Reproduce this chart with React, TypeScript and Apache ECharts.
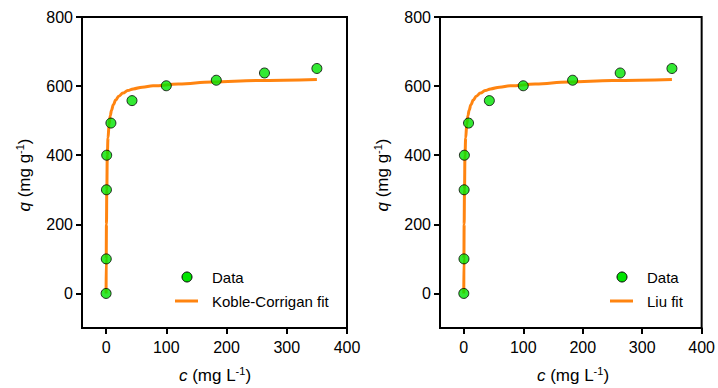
import React, { useEffect, useRef } from "react";
import * as echarts from "echarts";

// Experimental data (c in mg L-1, q in mg g-1)
const dataC = [0, 0.3, 0.6, 1.0, 8, 43, 100, 183, 263, 350];
const dataQ = [0, 100, 300, 400, 493, 558, 601, 617, 638, 651];

// Koble-Corrigan fit curve
const kcC = [0, 0.2, 0.6, 1.2, 2, 3.2, 5, 7, 9, 12, 16, 21, 28, 36, 45, 60, 78, 120, 176, 250, 350];
const kcQ = [0, 100, 200, 300, 400, 450, 490, 515, 530, 546, 560, 571, 580, 587, 592, 597, 601, 606, 612, 616, 619];

// Liu fit curve
const liuC = [0, 0.2, 0.6, 1.2, 2, 3.2, 5, 7, 9, 12, 16, 21, 28, 36, 45, 60, 78, 120, 176, 250, 350];
const liuQ = [0, 100, 200, 300, 400, 450, 490, 515, 530, 546, 560, 571, 580, 587, 592, 597, 601, 606, 612, 616, 619];

const xTicks = [0, 100, 200, 300, 400];
const yTicks = [0, 200, 400, 600, 800];

const legendLeft = ["Data", "Koble-Corrigan fit"];
const legendRight = ["Data", "Liu fit"];

const FONT = "Liberation Sans, Arial, sans-serif";
const GREEN = "#00e400";
const ORANGE = "#ff8410";

function zip(a: number[], b: number[]) {
  return a.map((v, i) => [v, b[i]]);
}

export default function App() {
  const ref = useRef<HTMLDivElement>(null);
  useEffect(() => {
    if (!ref.current) return;
    const chart = echarts.init(ref.current, null, { renderer: "svg" });
    const grids = [
      { left: 82, top: 17, width: 265, height: 311 },
      { left: 440, top: 17, width: 265, height: 311 },
    ];
    const mkX = (gi: number) => ({
      type: "value",
      gridIndex: gi,
      min: -40,
      max: 400,
      axisLine: { show: true, onZero: false, lineStyle: { color: "#000", width: 2 } },
      axisTick: { show: true, inside: false, length: 6, lineStyle: { color: "#000", width: 2 }, customValues: xTicks },
      axisLabel: { color: "#000", fontSize: 16, fontFamily: FONT, margin: 11, customValues: xTicks },
      splitLine: { show: false },
    });
    const mkY = (gi: number) => ({
      type: "value",
      gridIndex: gi,
      min: -100,
      max: 800,
      axisLine: { show: true, onZero: false, lineStyle: { color: "#000", width: 2 } },
      axisTick: { show: true, inside: false, length: 6, lineStyle: { color: "#000", width: 2 }, customValues: yTicks },
      axisLabel: { color: "#000", fontSize: 16, fontFamily: FONT, margin: 9, customValues: yTicks },
      splitLine: { show: false },
    });
    const scatterStyle = {
      color: GREEN,
      borderColor: "#000",
      borderWidth: 1,
    };
    const rich = {
      i: { fontStyle: "italic", fontSize: 17, fontFamily: FONT, lineHeight: 20, fill: "#000" },
      n: { fontSize: 17, fontFamily: FONT, lineHeight: 20, fill: "#000" },
      s: { fontSize: 11, fontFamily: FONT, verticalAlign: "top", lineHeight: 20, fill: "#000" },
    };
    const xTitle = (cx: number) => ({
      type: "text",
      x: cx,
      y: 375,
      style: {
        text: "{i|c}{n| (mg L}{s|-1}{n|)}",
        rich,
        align: "center",
        verticalAlign: "middle",
        fill: "#000",
      },
    });
    const yTitle = (cx: number) => ({
      type: "text",
      x: cx,
      y: 175,
      rotation: Math.PI / 2,
      style: {
        text: "{i|q}{n| (mg g}{s|-1}{n|)}",
        rich,
        align: "center",
        verticalAlign: "middle",
        fill: "#000",
      },
    });
    const legend = (x0: number, labels: string[]) => [
      {
        type: "circle",
        shape: { cx: x0 + 12, cy: 277, r: 5 },
        style: { fill: GREEN, stroke: "#000", lineWidth: 1 },
      },
      {
        type: "line",
        shape: { x1: x0, y1: 301, x2: x0 + 23, y2: 301 },
        style: { stroke: ORANGE, lineWidth: 3 },
      },
      {
        type: "text",
        x: x0 + 37,
        y: 277,
        style: { text: labels[0], fontSize: 15, fontFamily: FONT, fill: "#000", verticalAlign: "middle" },
      },
      {
        type: "text",
        x: x0 + 37,
        y: 301,
        style: { text: labels[1], fontSize: 15, fontFamily: FONT, fill: "#000", verticalAlign: "middle" },
      },
    ];
    chart.setOption({
      animation: false,
      backgroundColor: "#fff",
      grid: grids.map((g) => ({ ...g, show: true, borderColor: "#000", borderWidth: 2, backgroundColor: "transparent" })),
      xAxis: [mkX(0), mkX(1)],
      yAxis: [mkY(0), mkY(1)],
      series: [
        {
          name: "Koble-Corrigan fit",
          type: "line",
          xAxisIndex: 0,
          yAxisIndex: 0,
          data: zip(kcC, kcQ),
          symbol: "none",
          smooth: 0.4,
          smoothMonotone: "x",
          lineStyle: { color: ORANGE, width: 3 },
          itemStyle: { color: ORANGE },
          z: 2,
        },
        {
          name: "Data",
          type: "scatter",
          xAxisIndex: 0,
          yAxisIndex: 0,
          data: zip(dataC, dataQ),
          symbolSize: 10,
          itemStyle: scatterStyle,
          z: 3,
        },
        {
          name: "Liu fit",
          type: "line",
          xAxisIndex: 1,
          yAxisIndex: 1,
          data: zip(liuC, liuQ),
          symbol: "none",
          smooth: 0.4,
          smoothMonotone: "x",
          lineStyle: { color: ORANGE, width: 3 },
          itemStyle: { color: ORANGE },
          z: 2,
        },
        {
          name: "Data",
          type: "scatter",
          xAxisIndex: 1,
          yAxisIndex: 1,
          data: zip(dataC, dataQ),
          symbolSize: 10,
          itemStyle: scatterStyle,
          z: 3,
        },
      ],
      graphic: [
        xTitle(215),
        xTitle(573),
        yTitle(24),
        yTitle(382),
        ...legend(175, legendLeft),
        ...legend(610, legendRight),
      ],
    });
    return () => chart.dispose();
  }, []);
  return <div ref={ref} style={{ width: 718, height: 388, position: "absolute", left: 0, top: 0 }} />;
}
